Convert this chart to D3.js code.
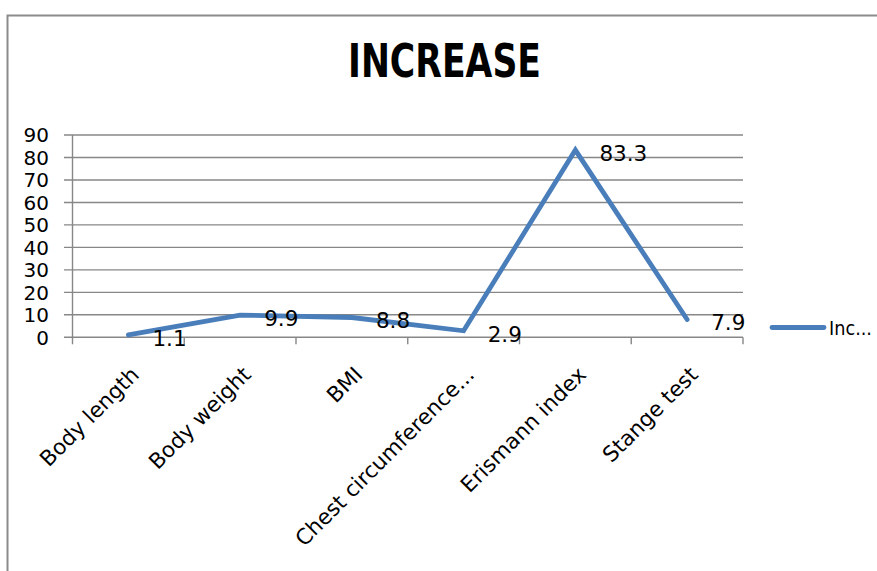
<!DOCTYPE html>
<html><head><meta charset="utf-8">
<script src="https://cdn.jsdelivr.net/npm/d3@7"></script>
<style>html,body{margin:0;padding:0;background:#fff;overflow:hidden}</style>
</head><body>
<script>
const categories = ["Body length","Body weight","BMI","Chest circumference...","Erismann index","Stange test"];
const values = [1.1, 9.9, 8.8, 2.9, 83.3, 7.9];
const yTicks = [0,10,20,30,40,50,60,70,80,90];
const seriesName = "Inc...";
const title = "INCREASE";

const W = 877, H = 571;
const svg = d3.select("body").append("svg").attr("width", W).attr("height", H);
const font = "DejaVu Sans, sans-serif";
const fs = 21.5;

svg.append("rect").attr("x", 7.5).attr("y", 15.5).attr("width", 900).attr("height", 600)
  .attr("fill", "#fff").attr("stroke", "#8c8c8c").attr("stroke-width", 2);

const x = d3.scaleBand().domain(categories).range([72.5, 743]).paddingInner(0).paddingOuter(0);
const y = d3.scaleLinear().domain([0, 90]).range([337.3, 135]);

// gridlines + y ticks
svg.append("g").selectAll("line").data(yTicks).join("line")
  .attr("x1", 64).attr("x2", 743)
  .attr("y1", d => y(d)).attr("y2", d => y(d))
  .attr("stroke", "#878787").attr("stroke-width", 1.4);
svg.append("g").selectAll("text").data(yTicks).join("text")
  .attr("x", 49).attr("y", d => y(d)).attr("dy", "0.36em")
  .attr("text-anchor", "end").attr("font-family", font).attr("font-size", 20)
  .attr("fill", "#000").text(d => d);

// y axis line
svg.append("line").attr("x1", 72.5).attr("x2", 72.5).attr("y1", y(90)).attr("y2", y(0))
  .attr("stroke", "#878787").attr("stroke-width", 1.4);

// x tick marks at band edges
const edges = categories.map(c => x(c)).concat([x(categories[categories.length-1]) + x.bandwidth()]);
svg.append("g").selectAll("line").data(edges).join("line")
  .attr("x1", d => d).attr("x2", d => d).attr("y1", y(0)).attr("y2", y(0) + 7)
  .attr("stroke", "#878787").attr("stroke-width", 1.4);

// category labels
const cx = c => x(c) + x.bandwidth() / 2;
svg.append("g").selectAll("text").data(categories).join("text")
  .attr("transform", c => `translate(${cx(c) + 12},${376}) rotate(-45)`)
  .attr("text-anchor", "end").attr("font-family", font).attr("font-size", fs)
  .attr("fill", "#000").text(c => c);

// line
const line = d3.line().x((d, i) => cx(categories[i])).y(d => y(d));
svg.append("path").datum(values).attr("d", line)
  .attr("fill", "none").attr("stroke", "#4a7ebb").attr("stroke-width", 4.8)
  .attr("stroke-linejoin", "miter").attr("stroke-linecap", "round");

// data labels
svg.append("g").selectAll("text").data(values).join("text")
  .attr("x", (d, i) => cx(categories[i]) + 24).attr("y", d => y(d) + 3).attr("dy", "0.36em")
  .attr("font-family", font).attr("font-size", fs).attr("fill", "#000").text(d => d);

// title
svg.append("text").attr("x", 444.5).attr("y", 77).attr("text-anchor", "middle")
  .attr("font-family", font).attr("font-weight", "bold").attr("font-size", 46)
  .attr("textLength", 193).attr("lengthAdjust", "spacingAndGlyphs").text(title);

// legend
svg.append("line").attr("x1", 772).attr("x2", 824).attr("y1", 327.5).attr("y2", 327.5)
  .attr("stroke", "#4a7ebb").attr("stroke-width", 4.8).attr("stroke-linecap", "round");
svg.append("text").attr("x", 829).attr("y", 328).attr("dy", "0.36em")
  .attr("font-family", font).attr("font-size", 20).attr("fill", "#000")
  .attr("textLength", 43).attr("lengthAdjust", "spacingAndGlyphs").text(seriesName);
</script>
</body></html>
